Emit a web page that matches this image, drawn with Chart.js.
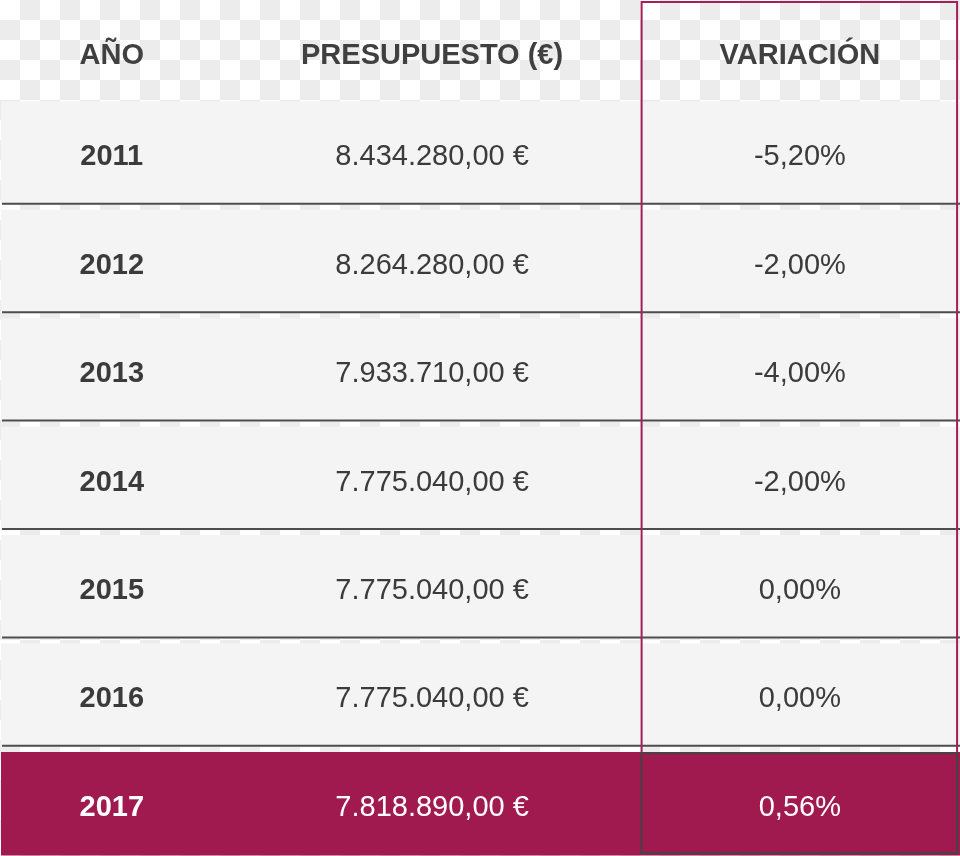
<!DOCTYPE html>
<html>
<head>
<meta charset="utf-8">
<script src="https://cdn.jsdelivr.net/npm/chart.js@4"></script>
<style>
  html, body { margin: 0; padding: 0; overflow: hidden; background: #fff; }
  #wrap { width: 960px; height: 856px; overflow: hidden; }
</style>
</head>
<body>
<div id="wrap"><canvas id="tabla" width="960" height="858"></canvas></div>
<script>
// Datos de la tabla
const headers = ['AÑO', 'PRESUPUESTO (€)', 'VARIACIÓN'];
const years = ['2011', '2012', '2013', '2014', '2015', '2016', '2017'];
const budgets = [8434280.00, 8264280.00, 7933710.00, 7775040.00, 7775040.00, 7775040.00, 7818890.00];
const variations = [-5.20, -2.00, -4.00, -2.00, 0.00, 0.00, 0.56];

// column edges as fraction of the table width
const colEdges = [0, 0.231, 0.668, 0.998];

const crimson = '#a01a4f';
const rowGray = '#f4f4f4';
const textDark = '#3b3b3b';

function fmtEuro(v) {
    const parts = v.toFixed(2).split('.');
    const ent = parts[0].replace(/\B(?=(\d{3})+(?!\d))/g, '.');
    return ent + ',' + parts[1] + ' €';
}
function fmtPct(v) {
    return v.toFixed(2).replace('.', ',') + '%';
}

// checkerboard background (transparent png look)
const checker = {
    id: 'checker',
    beforeDraw(chart) {
        const ctx = chart.ctx;
        ctx.save();
        ctx.fillStyle = '#ffffff';
        ctx.fillRect(0, 0, chart.width, chart.height);
        ctx.fillStyle = '#ececec';
        for (let y = 0; y < chart.height; y += 20) {
            for (let x = 0; x < chart.width; x += 20) {
                if (((x / 20) + (y / 20)) % 2 === 1) ctx.fillRect(x, y, 20, 20);
            }
        }
        ctx.restore();
    }
};

// lines, borders and text of the table
const tableText = {
    id: 'tableText',
    afterDatasetsDraw(chart) {
        const ctx = chart.ctx;
        const xs = chart.scales.x;
        const meta = chart.getDatasetMeta(0);
        const colX = colEdges.map(e => xs.getPixelForValue(e));
        const centers = [0, 1, 2].map(i => (colX[i] + colX[i + 1]) / 2);
        const last = meta.data.length - 1;
        ctx.save();

        // row bottom lines
        ctx.strokeStyle = '#4d4d4d';
        ctx.lineWidth = 2;
        meta.data.forEach((bar, i) => {
            if (i === last) return;
            const yb = bar.y + bar.height / 2 - 1;
            ctx.beginPath();
            ctx.moveTo(colX[0] + 1, yb);
            ctx.lineTo(chart.width, yb);
            ctx.stroke();
        });

        // crimson frame around the variation column
        const lastTop = meta.data[last].y - meta.data[last].height / 2;
        ctx.strokeStyle = '#a51f56';
        ctx.lineWidth = 2;
        ctx.strokeRect(colX[2], 2, colX[3] - colX[2] - 1, lastTop - 1);

        // dark frame on the last variation cell
        ctx.strokeStyle = '#444444';
        ctx.strokeRect(colX[2], lastTop + 1, colX[3] - colX[2] - 1, meta.data[last].height - 3);

        // header
        ctx.textAlign = 'center';
        ctx.textBaseline = 'middle';
        ctx.fillStyle = '#404040';
        ctx.font = 'bold 29px "Liberation Sans", Arial, sans-serif';
        const headY = meta.data[0].y - meta.data[0].height / 2 - 46;
        headers.forEach((h, i) => ctx.fillText(h, centers[i], headY));

        // rows
        meta.data.forEach((bar, i) => {
            const y = bar.y + 4;
            ctx.fillStyle = i === last ? '#ffffff' : textDark;
            ctx.font = 'bold 29px "Liberation Sans", Arial, sans-serif';
            ctx.fillText(years[i], centers[0], y);
            ctx.font = '29px "Liberation Sans", Arial, sans-serif';
            ctx.fillText(fmtEuro(budgets[i]), centers[1], y);
            ctx.fillText(fmtPct(variations[i]), centers[2], y);
        });
        ctx.restore();
    }
};

new Chart(document.getElementById('tabla').getContext('2d'), {
    type: 'bar',
    data: {
        labels: years,
        datasets: [{
            data: years.map(() => [0, 1]),
            backgroundColor: years.map((y, i) => i === years.length - 1 ? crimson : rowGray),
            borderWidth: 0,
            barThickness: 103
        }]
    },
    options: {
        indexAxis: 'y',
        responsive: false,
        animation: false,
        layout: { padding: { top: 99, left: 1, right: 0, bottom: 0 } },
        scales: {
            x: { type: 'linear', min: 0, max: 1, display: false },
            y: { type: 'category', display: false, offset: true, grid: { display: false } }
        },
        plugins: {
            legend: { display: false },
            tooltip: { enabled: false }
        }
    },
    plugins: [checker, tableText]
});
</script>
</body>
</html>
